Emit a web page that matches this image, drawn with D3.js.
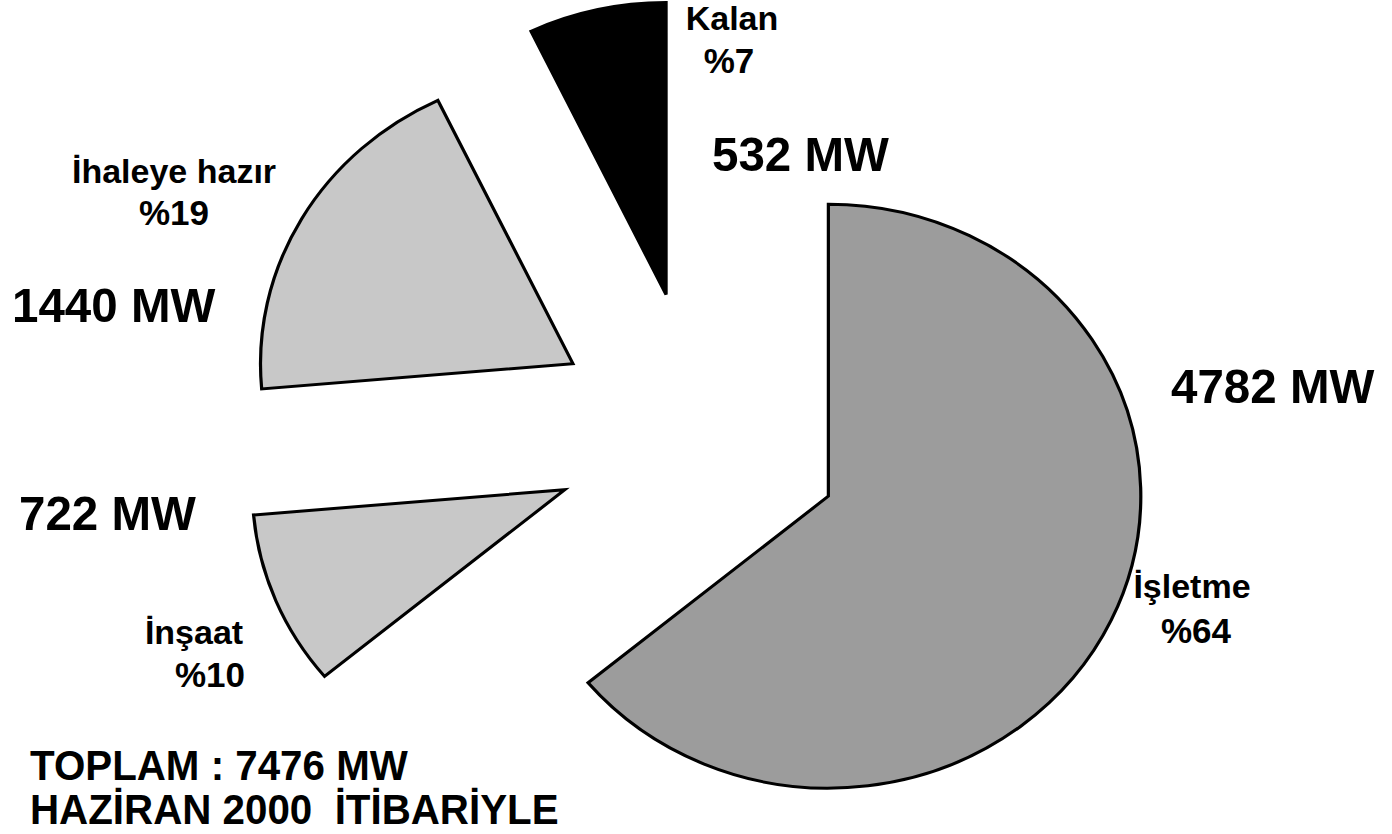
<!DOCTYPE html>
<html>
<head>
<meta charset="utf-8">
<script src="https://cdn.jsdelivr.net/npm/d3@7"></script>
<style>
    body { margin:0; background:#fff; }
    svg { display:block; font-family:"Liberation Sans", Arial, sans-serif; font-weight:bold; }
    text { white-space:pre; fill:#000; }
</style>
</head>
<body>
<svg id="chart" width="1392" height="834"></svg>
<script>
// data, clockwise from 12 o'clock
var categories = ["İşletme", "İnşaat", "İhaleye hazır", "Kalan"];
var values = [4782, 722, 1440, 532];
var fills = ["#9c9c9c", "#c8c8c8", "#c8c8c8", "#000000"];
var totalLabel = "TOPLAM : ";
var dateLabel = "HAZİRAN 2000  İTİBARİYLE";

// where the labels sit (name, percent, MW), same order as categories
var namePos = [[1192, 598], [194, 644], [174, 183], [732, 30]];
var pctPos  = [[1196, 643], [210, 687], [174, 225], [729, 73]];
var mwPos   = [[1171, 403], [19, 530], [12, 322], [712, 171]];

var svg = d3.select("#chart");
var total = d3.sum(values);

var cx = 698, cy = 435, r = 292, explode = 144, sx = 1.07;

var pie = d3.pie().sort(null).value(function(d){ return d; });
var arc = d3.arc().innerRadius(0).outerRadius(r);

svg.append("g").selectAll("path")
    .data(pie(values))
    .enter()
    .append("path")
        .attr("transform", function(d){
            var a = (d.startAngle + d.endAngle) / 2;
            return "translate(" + (cx + explode * Math.sin(a)) + "," + (cy - explode * Math.cos(a)) + ") scale(" + sx + ",1)";
        })
        .attr("d", arc)
        .attr("fill", function(d, i){ return fills[i]; })
        .attr("stroke", "#000")
        .attr("stroke-width", 3)
        .attr("stroke-linejoin", "miter");

var labels = svg.append("g");

function addText(x, y, str, size, squeeze, anchor) {
    labels.append("text")
        .attr("transform", "translate(" + x + "," + y + ") scale(" + squeeze + ",1)")
        .attr("text-anchor", anchor || "start")
        .style("font-size", size + "px")
        .text(str);
}

categories.forEach(function(c, i){
    addText(namePos[i][0], namePos[i][1], c, 34, 1, "middle");
    addText(pctPos[i][0], pctPos[i][1], "%" + Math.round(values[i] / total * 100), 35, 1, "middle");
    addText(mwPos[i][0], mwPos[i][1], values[i] + " MW", 49, 0.97);
});

addText(30, 780, totalLabel + total + " MW", 42, 0.96);
addText(30, 824, dateLabel, 42, 0.96);
</script>
</body>
</html>
